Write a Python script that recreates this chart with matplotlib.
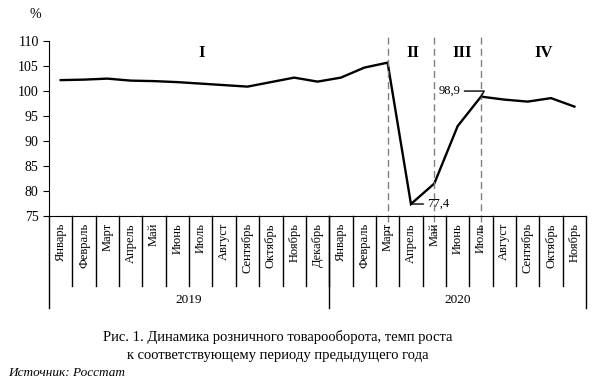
import matplotlib.pyplot as plt
import numpy as np

plt.rcParams['font.family'] = ['Liberation Serif', 'DejaVu Serif']

months = ["Январь", "Февраль", "Март", "Апрель", "Май", "Июнь", "Июль",
          "Август", "Сентябрь", "Октябрь", "Ноябрь", "Декабрь",
          "Январь", "Февраль", "Март", "Апрель", "Май", "Июнь", "Июль",
          "Август", "Сентябрь", "Октябрь", "Ноябрь"]
values = [102.2, 102.3, 102.5, 102.1, 102.0, 101.8, 101.5, 101.2, 100.9,
          101.8, 102.7, 101.9, 102.7, 104.7, 105.7, 77.4, 81.5, 93.0, 98.9,
          98.3, 97.9, 98.6, 96.9]
years = ["2019", "2020"]
year_sizes = [12, 11]
periods = ["I", "II", "III", "IV"]
period_bounds = [14, 16, 18]  # индексы месяцев с пунктиром (Март, Май, Июль 2020)

x = np.arange(len(months))

fig = plt.figure(figsize=(5.95, 3.81), dpi=100)
ax = fig.add_axes([0.0824, 0.433, 0.9026, 0.459])

ax.plot(x, values, color='black', lw=1.7, solid_joinstyle='miter')
ax.set_xlim(-0.5, len(months) - 0.5)
ax.set_ylim(75, 110)
ax.set_yticks(np.arange(75, 111, 5))
ax.tick_params(axis='y', labelsize=10, length=4, direction='out')
ax.set_xticks([])
ax.spines['top'].set_visible(False)
ax.spines['right'].set_visible(False)
ax.spines['left'].set_bounds(75, 110)
ax.text(-0.025, 1.13, "%", transform=ax.transAxes, fontsize=10, ha='center')

tr = ax.get_xaxis_transform()
# подписи месяцев и разделители
for i, m in enumerate(months):
    ax.text(i, -0.04, m, transform=tr, rotation=90, ha='center', va='top',
            fontsize=9, clip_on=False)
for b in range(1, len(months)):
    ax.plot([b - 0.5, b - 0.5], [0, -0.4], transform=tr, color='black',
            lw=1.0, clip_on=False)
# годы
start = 0
for yname, n in zip(years, year_sizes):
    ax.plot([start - 0.5, start - 0.5], [0, -0.526], transform=tr,
            color='black', lw=1.0, clip_on=False)
    ax.text(start + n / 2 - 0.5, -0.48, yname, transform=tr, ha='center',
            va='center', fontsize=9.5)
    start += n
ax.plot([start - 0.5, start - 0.5], [0, -0.526], transform=tr,
        color='black', lw=1.0, clip_on=False)

# пунктирные границы периодов
for b in period_bounds:
    ax.plot([b, b], [-0.097, 1.04], transform=tr, color='#808080', lw=1.0,
            ls=(0, (5, 3)), clip_on=False)

period_x = [6.05, 15.1, 17.2, 20.7]
for px, p in zip(period_x, periods):
    ax.text(px, 0.935, p, transform=tr, ha='center', va='center',
            fontsize=12, fontweight='bold')

ax.annotate("98,9", xy=(18, values[18]), xytext=(-15, 4),
            textcoords='offset points', ha='right', va='center', fontsize=9,
            arrowprops=dict(arrowstyle='-', color='black', lw=1.0,
                            shrinkA=1, shrinkB=0,
                            connectionstyle='angle,angleA=0,angleB=60,rad=0'))
ax.annotate("77,4", xy=(15, values[15]), xytext=(12, 0),
            textcoords='offset points', ha='left', va='center', fontsize=9,
            arrowprops=dict(arrowstyle='-', color='black', lw=1.0,
                            shrinkA=1, shrinkB=1))

fig.text(0.466, 0.115, "Рис. 1. Динамика розничного товарооборота, темп роста",
         ha='center', va='center', fontsize=10.5)
fig.text(0.466, 0.068, "к соответствующему периоду предыдущего года",
         ha='center', va='center', fontsize=10.5)
fig.text(0.013, 0.022, "Источник: Росстат", ha='left', va='center',
         fontsize=9.5, style='italic')

fig.savefig("out.png", dpi=100)
